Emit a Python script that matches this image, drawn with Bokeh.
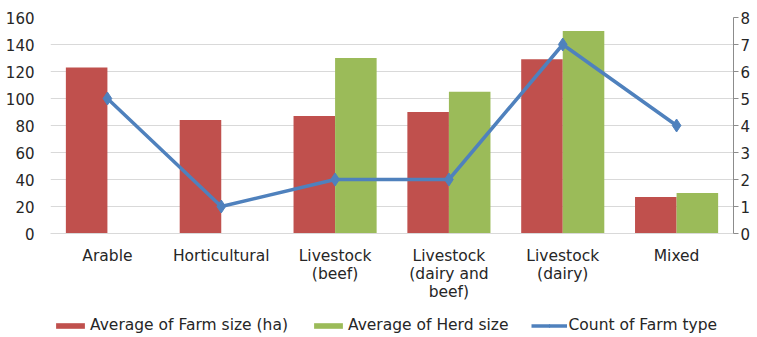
import numpy as np
from bokeh.plotting import figure
from bokeh.layouts import column
from bokeh.models import (ColumnDataSource, Range1d, LinearAxis, FixedTicker,
                          Legend, LegendItem, SingleIntervalTicker)
from bokeh.transform import dodge
from bokeh.embed import file_html
from bokeh.resources import INLINE

# Farm types and the three summary series
categories = ["Arable", "Horticultural", "Livestock (beef)",
              "Livestock (dairy and beef)", "Livestock (dairy)", "Mixed"]
tick_labels = ["Arable", "Horticultural", "Livestock\n(beef)",
               "Livestock\n(dairy and\nbeef)", "Livestock\n(dairy)", "Mixed"]
farm_size = [123, 84, 87, 90, 129, 27]
herd_size = [np.nan, np.nan, 130, 105, 150, 30]
farm_count = [5, 1, 2, 2, 7, 4]
series_names = ["Average of Farm size (ha)", "Average of Herd size",
                "Count of Farm type"]

FONT = "DejaVu Sans"
TEXT = "#262626"
RED = "#C0504D"
GREEN = "#9BBB59"
BLUE = "#4F81BD"
W, H, LEG_H = 757, 337, 30

pos = list(range(1, len(categories) + 1))
source = ColumnDataSource(dict(x=pos, cat=categories, farm=farm_size,
                               herd=herd_size, count=farm_count))

p = figure(width=W, height=H - LEG_H,
           x_range=Range1d(0.5, len(categories) + 0.5),
           y_range=Range1d(0, 160), output_backend="svg",
           toolbar_location=None, min_border_left=50, min_border_right=24,
           min_border_top=17, min_border_bottom=74)
p.outline_line_color = None
p.extra_y_ranges = {"count": Range1d(0, 8)}

bar_w = 0.365
bar_style = dict(width=bar_w, line_color=None)
farm_style = dict(x=dodge("x", -bar_w / 2), top="farm", fill_color=RED, **bar_style)
herd_style = dict(x=dodge("x", bar_w / 2), top="herd", fill_color=GREEN, **bar_style)
line_style = dict(x="x", y="count", line_color=BLUE, line_width=3.5)
pt_style = dict(x="x", y="count", marker="diamond", size=13,
                fill_color=BLUE, line_color=BLUE)

p.vbar(source=source, **farm_style)
p.vbar(source=source, **herd_style)
p.line(source=source, y_range_name="count", **line_style)
p.scatter(source=source, y_range_name="count", **pt_style)

# grid
p.xgrid.grid_line_color = None
p.ygrid.grid_line_color = "#d9d9d9"
p.ygrid.grid_line_width = 1

# left axis
p.yaxis.ticker = SingleIntervalTicker(interval=20)
p.yaxis.axis_line_color = None
p.yaxis.major_tick_line_color = None
p.yaxis.minor_tick_line_color = None
p.yaxis.major_tick_out = 0
p.yaxis.major_label_standoff = 12
p.yaxis.major_label_text_font = FONT
p.yaxis.major_label_text_font_size = "15px"
p.yaxis.major_label_text_color = TEXT

# right axis
ax2 = LinearAxis(y_range_name="count", ticker=SingleIntervalTicker(interval=1))
ax2.axis_line_color = "#8c8c8c"
ax2.major_tick_line_color = "#8c8c8c"
ax2.minor_tick_line_color = None
ax2.major_tick_out = 5
ax2.major_tick_in = 0
ax2.major_label_standoff = 2
ax2.major_label_text_font = FONT
ax2.major_label_text_font_size = "15px"
ax2.major_label_text_color = TEXT
p.add_layout(ax2, "right")

# bottom axis
p.xaxis.ticker = FixedTicker(ticks=pos)
p.xaxis.axis_line_color = "#d9d9d9"
p.xaxis.major_tick_line_color = None
p.xaxis.minor_tick_line_color = None
p.xaxis.major_tick_out = 0
p.xaxis.major_label_standoff = 13
p.xaxis.major_label_overrides = dict(zip(pos, tick_labels))
p.xaxis.major_label_text_font = FONT
p.xaxis.major_label_text_font_size = "15.5px"
p.xaxis.major_label_text_line_height = 1.0
p.xaxis.major_label_text_color = TEXT

# legend strip under the chart: hidden swatch renderers carry the series
# styles so the legend keys match the bars and the line
lg = figure(width=W, height=LEG_H, x_range=Range1d(0.5, len(categories) + 0.5),
            y_range=Range1d(0, 1), output_backend="svg",
            toolbar_location=None, min_border=0)
lg.axis.visible = False
lg.grid.grid_line_color = None
lg.outline_line_color = None
sw_farm = lg.vbar(source=source, visible=False, **farm_style)
sw_herd = lg.vbar(source=source, visible=False, **herd_style)
sw_line = lg.line(source=source, visible=False, **line_style)
sw_pts = lg.scatter(source=source, visible=False, **pt_style)

legend = Legend(items=[
    LegendItem(label=series_names[0], renderers=[sw_farm]),
    LegendItem(label=series_names[1], renderers=[sw_herd]),
    LegendItem(label=series_names[2], renderers=[sw_line, sw_pts]),
], orientation="horizontal", location=(2, 3), click_policy="none")
legend.glyph_width = 36
legend.glyph_height = 7
legend.label_standoff = 2
legend.spacing = 22
legend.padding = 0
legend.margin = 0
legend.border_line_color = None
legend.background_fill_alpha = 0
legend.label_text_font = FONT
legend.label_text_font_size = "15.5px"
legend.label_text_color = TEXT
lg.add_layout(legend, "center")

open("out.html", "w").write(file_html(column(p, lg, spacing=0), INLINE))
